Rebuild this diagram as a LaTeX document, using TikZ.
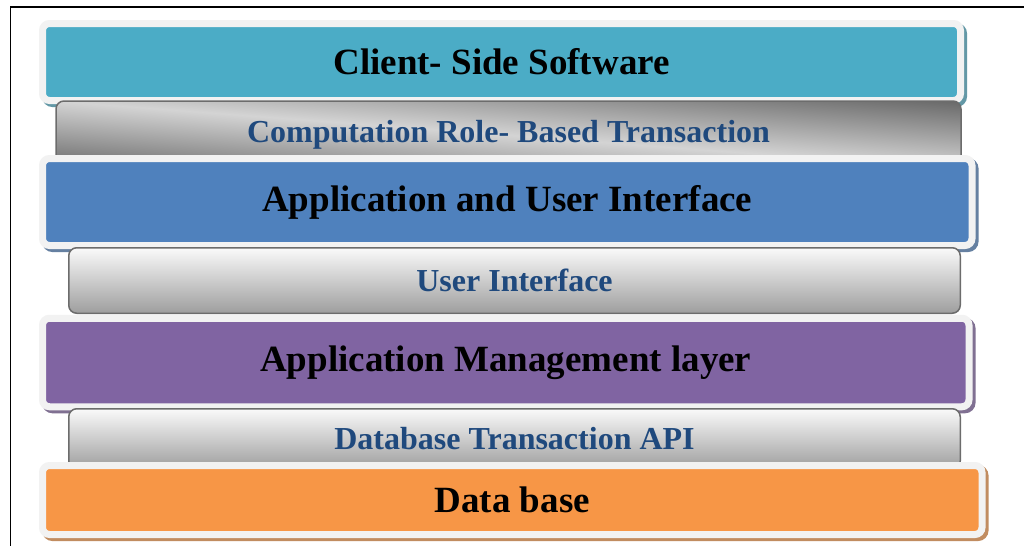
\documentclass[tikz,border=0pt]{standalone}
\usepackage{fontspec}
\setmainfont{Liberation Serif}
\usetikzlibrary{shadows}

\definecolor{cyanlayer}{RGB}{75,172,198}
\definecolor{bluelayer}{RGB}{79,129,189}
\definecolor{purplelayer}{RGB}{128,100,162}
\definecolor{orangelayer}{RGB}{247,150,70}
\definecolor{layerrim}{RGB}{242,242,242}
\definecolor{barrim}{RGB}{108,108,108}
\definecolor{bartext}{RGB}{31,73,125}

% light band along the diagonal, dark corners
\pgfdeclarefunctionalshading{crtshade}{\pgfpointorigin}{\pgfpoint{100bp}{100bp}}{}{
    50 sub exch 50 sub add abs 50 div
    dup 1 gt {pop 1} if
    0.42 mul 0.83 exch sub
    dup dup
}

\begin{document}
\begin{tikzpicture}[x=1pt,y=-1pt,
    layer/.style={rounded corners=7pt, draw=layerrim, line width=7pt, fill=#1,
        inner sep=0pt, font=\fontsize{37}{44}\selectfont\bfseries, text=black,
        drop shadow={shadow xshift=3pt, shadow yshift=-3pt, opacity=1,
            draw=#1!55!gray, fill=#1!55!gray, line width=7pt}},
    bar/.style={rounded corners=8pt, draw=barrim, line width=1.5pt, inner sep=0pt,
        font=\fontsize{32}{38}\selectfont\bfseries, text=bartext},
    fadebar/.style={bar, top color=white!98!black, bottom color=white!62!black}]
    \useasboundingbox (0,0) rectangle (1024,546);
    \fill[white] (0,0) rectangle (1024,546);
    \draw[line width=1.6pt] (1024,7) -- (10.5,7) -- (10.5,546);

    % layers, top to bottom
    \node[layer=cyanlayer, minimum width=918pt, minimum height=77pt] (cs) at (501.5,62) {Client- Side Software};
    \node[bar, shade, shading=crtshade,
        minimum width=905pt, minimum height=68pt] (crt) at (508.5,135) {Computation Role- Based Transaction};
    \node[layer=bluelayer, minimum width=929.5pt, minimum height=87pt] (aui) at (507.25,202) {Application and User Interface};
    \node[fadebar, minimum width=891.5pt, minimum height=65.5pt] (ui) at (514.5,280.5) {User Interface};
    \node[layer=purplelayer, minimum width=926.5pt, minimum height=88.5pt] (aml) at (505.75,362.5) {Application Management layer};
    \node[fadebar, minimum width=891.5pt, minimum height=60pt] (dta) at (514.5,438.75) {Database Transaction API};
    \node[layer=orangelayer, minimum width=939.5pt, minimum height=69pt] (db) at (512.25,500) {Data base};
\end{tikzpicture}
\end{document}
